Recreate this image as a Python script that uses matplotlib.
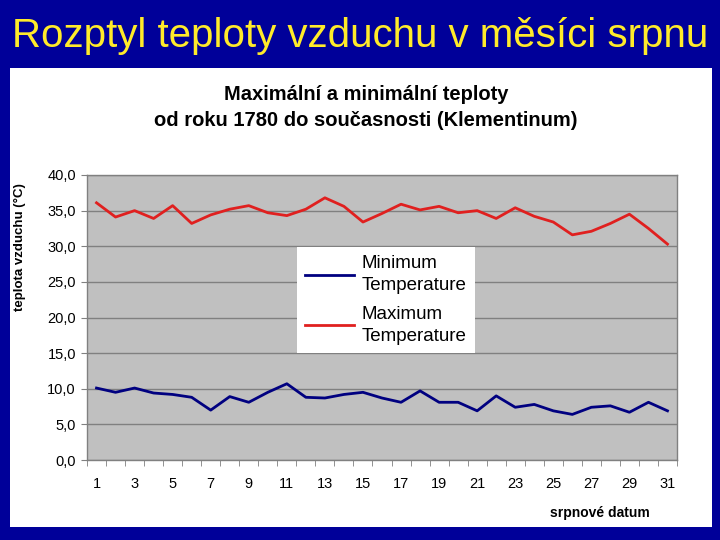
import matplotlib
matplotlib.use("Agg")
import matplotlib.pyplot as plt
from matplotlib.ticker import FuncFormatter, MultipleLocator, FixedLocator

days = list(range(1, 32))
t_min = [10.1, 9.5, 10.1, 9.4, 9.2, 8.8, 7.0, 8.9, 8.1, 9.5, 10.7, 8.8, 8.7, 9.2, 9.5, 8.7,
         8.1, 9.7, 8.1, 8.1, 6.9, 9.0, 7.4, 7.8, 6.9, 6.4, 7.4, 7.6, 6.7, 8.1, 6.9]
t_max = [36.1, 34.1, 35.0, 33.9, 35.7, 33.2, 34.4, 35.2, 35.7, 34.7, 34.3, 35.2, 36.8, 35.6, 33.4, 34.6,
         35.9, 35.1, 35.6, 34.7, 35.0, 33.9, 35.4, 34.2, 33.4, 31.6, 32.1, 33.2, 34.5, 32.5, 30.3]
x_labels = [str(d) for d in range(1, 32, 2)]

plt.rcParams['font.family'] = ['Liberation Sans', 'DejaVu Sans']

fig = plt.figure(figsize=(7.2, 5.4), dpi=100)
fig.patch.set_facecolor('#000099')

# white panel
bg = fig.add_axes([10/720, 1-527/540, (712-10)/720, (527-68)/540], zorder=-5)
bg.set_facecolor('white')
bg.set_xticks([])
bg.set_yticks([])
for s in bg.spines.values():
    s.set_visible(False)

fig.text(0.5, 1-36/540, "Rozptyl teploty vzduchu v měsíci srpnu", color='#FFEB2A',
         fontsize=29, ha='center', va='center')

fig.text(366/720, 1-94/540, "Maximální a minimální teploty", fontsize=14.5, fontweight='bold',
         ha='center', va='center')
fig.text(366/720, 1-120/540, "od roku 1780 do současnosti (Klementinum)", fontsize=14.5, fontweight='bold',
         ha='center', va='center')

ax = fig.add_axes([87/720, 1-460/540, (677-87)/720, (460-175)/540], zorder=1)
ax.set_facecolor('#C0C0C0')
ax.plot(days, t_min, color='#000080', lw=2.0, label='Minimum\nTemperature', zorder=3)
ax.plot(days, t_max, color='#E0201F', lw=2.0, label='Maximum\nTemperature', zorder=3)

ax.set_xlim(0.5, 31.5)
ax.set_ylim(0, 40)
ax.yaxis.set_major_locator(MultipleLocator(5))
ax.yaxis.set_major_formatter(FuncFormatter(lambda v, p: f"{v:.1f}".replace('.', ',')))
ax.grid(axis='y', color='#808080', lw=1)
ax.set_axisbelow(True)

ax.xaxis.set_major_locator(FixedLocator(list(range(1, 32, 2))))
ax.set_xticklabels(x_labels)
ax.xaxis.set_minor_locator(FixedLocator([d + 0.5 for d in range(0, 32)]))
ax.tick_params(axis='x', which='major', length=0, pad=12, labelsize=10.5)
ax.tick_params(axis='x', which='minor', length=4, color='#808080', direction='out')
ax.tick_params(axis='y', which='major', length=4, color='#808080', direction='out', labelsize=10.5, pad=4)

for s in ax.spines.values():
    s.set_color('#808080')
    s.set_linewidth(1)

fig.text(20/720, 1-247/540, "teplota vzduchu (°C)", rotation=90, fontsize=9.5, fontweight='bold',
         ha='center', va='center')
fig.text(600/720, 1-513/540, "srpnové datum", fontsize=10, fontweight='bold',
         ha='center', va='center')

leg = ax.legend(loc='upper left', bbox_to_anchor=(297/720, 1-247/540), bbox_transform=fig.transFigure,
                borderaxespad=0, frameon=True, fancybox=False, fontsize=13.5, handlelength=2.6,
                handletextpad=0.4, labelspacing=0.65, borderpad=0.45)
for t in leg.get_texts():
    t.set_linespacing(1.35)
leg.get_frame().set_facecolor('white')
leg.get_frame().set_edgecolor('none')
leg.get_frame().set_alpha(1)

fig.savefig('out.png', dpi=100, facecolor=fig.get_facecolor())
